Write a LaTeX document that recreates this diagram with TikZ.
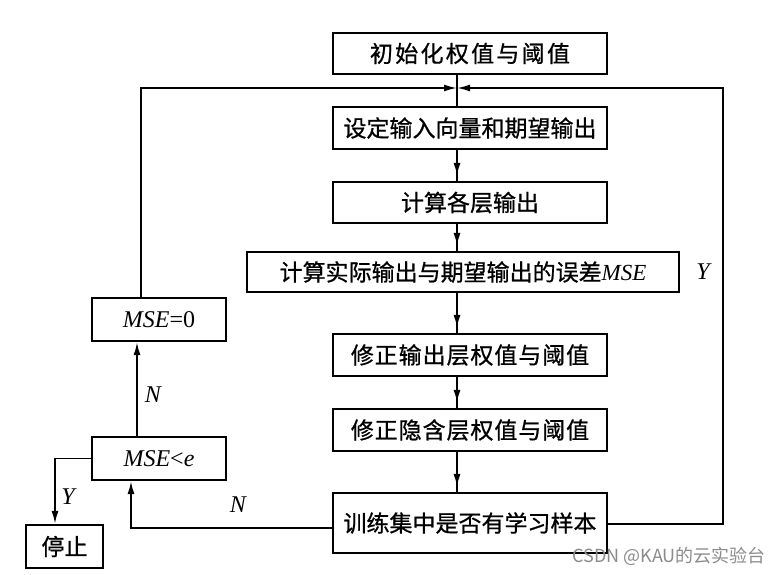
\documentclass[tikz,border=0pt]{standalone}
\usepackage{fontspec}
\setmainfont{Liberation Serif}
\newfontfamily\cjk[FakeBold=0.8]{Noto Sans CJK SC}
\newfontfamily\cjkw[LetterSpace=10,FakeBold=0.8]{Noto Sans CJK SC}
\newfontfamily\cjkm[LetterSpace=4,FakeBold=0.8]{Noto Sans CJK SC}
\newfontfamily\wmfont{Noto Sans CJK SC}
\usetikzlibrary{arrows.meta,decorations.markings}
\tikzset{
  box/.style={draw, line width=2.2pt, minimum width=274pt, minimum height=41pt, inner sep=0pt,
    font=\fontsize{23pt}{27pt}\selectfont\cjk},
  conn/.style={line width=1.8pt},
  tip/.style={-{Latex[length=13pt,width=7pt]}},
  midarrow/.style={conn, postaction={decorate}, decoration={markings,
    mark=at position -5pt with {\arrow{Latex[length=13pt,width=7pt]}}}},
  lbl/.style={font=\fontsize{24pt}{28pt}\selectfont\itshape, inner sep=0pt}
}
\begin{document}
\begin{tikzpicture}[x=1pt,y=-1pt]
\useasboundingbox[fill=white] (0,0) rectangle (780,575);
% main boxes
\node[box, font=\fontsize{23pt}{27pt}\selectfont\cjkw] (b1) at (470,53.5) {初始化权值与阈值};
\node[box, minimum height=42pt] (b2) at (470,128) {设定输入向量和期望输出};
\node[box] (b3) at (470,202.5) {计算各层输出};
\node[box, minimum width=432pt, minimum height=40pt] (b4) at (463,272) {计算实际输出与期望输出的误差\textit{\fontspec{Liberation Serif}MSE}};
\node[box, minimum height=42pt, font=\fontsize{23pt}{27pt}\selectfont\cjkm] (b5) at (470,355) {修正输出层权值与阈值};
\node[box, minimum height=42pt, font=\fontsize{23pt}{27pt}\selectfont\cjkm] (b6) at (470,430) {修正隐含层权值与阈值};
\node[box, minimum height=60pt] (b7) at (470,523) {训练集中是否有学习样本};
% left boxes
\node[box, minimum width=134pt, minimum height=43pt, font=\fontsize{24pt}{28pt}\selectfont] (m0) at (159,319.5) {\textit{MSE}=0};
\node[box, minimum width=134pt, minimum height=43pt, font=\fontsize{24pt}{28pt}\selectfont] (me) at (159,458.5) {\textit{MSE}<\textit{e}};
\node[box, minimum width=77pt, minimum height=43pt] (st) at (64.5,546.5) {停止};
% helper coordinates
\coordinate (J) at (457,88);
\coordinate (R) at (723,88);
\coordinate (L) at (141,88);
\coordinate (cN) at (131,0);
\coordinate (cA) at (137,0);
\coordinate (cY) at (55,0);
% spine
\draw[conn] (b1.south -| J) -- (b2.north -| J);
\draw[midarrow] (b2.south -| J) -- (b3.north -| J);
\draw[midarrow] (b3.south -| J) -- (b4.north -| J);
\draw[midarrow] (b4.south -| J) -- (b5.north -| J);
\draw[midarrow] (b5.south -| J) -- (b6.north -| J);
\draw[midarrow] (b6.south -| J) -- (b7.north -| J);
% loops to junction
\draw[conn, tip] (b7.east |- 0,524) -- (R |- 0,524) -- (R) -- (J);
\draw[conn, tip] (m0.north -| L) -- (L) -- (J);
% N path back to MSE<e
\draw[conn, tip] ([yshift=-5pt]b7.west) -- ([yshift=-5pt]b7.west -| cN) -- (me.south -| cN);
% MSE<e -> MSE=0
\draw[conn, tip] (me.north -| cA) -- (m0.south -| cA);
% MSE<e -> stop
\draw[conn, tip] (me.west) -- (me.west -| cY) -- (st.north -| cY);
% labels
\node[lbl] (ly1) at (703,272) {Y};
\node[lbl] (ln1) at (153,395) {N};
\node[lbl] (ln2) at (238,505) {N};
\node[lbl] (ly2) at (68,497) {Y};
% watermark
\node[font=\fontsize{18pt}{20pt}\selectfont\wmfont, text=black!45, inner sep=1pt, anchor=east] (wm) at (767,556) {CSDN @KAU的云实验台};
\end{tikzpicture}
\end{document}
